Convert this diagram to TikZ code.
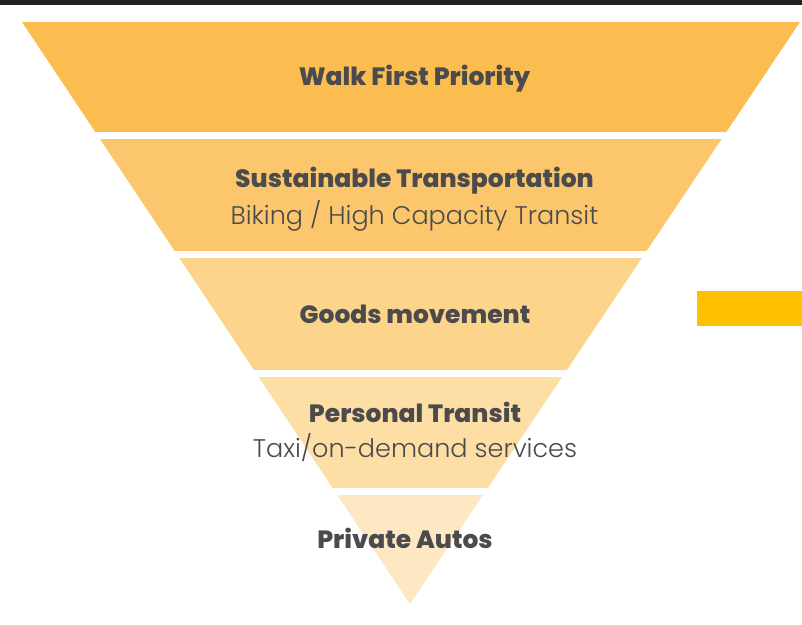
\documentclass[tikz,border=0pt]{standalone}
\usepackage{fontspec}
\setmainfont{Poppins}
\newfontfamily\titlefont{Poppins ExtraBold}
\newfontfamily\lightfont{Poppins Light}
\definecolor{barc}{HTML}{222222}
\definecolor{c1}{HTML}{FBBC50}
\definecolor{c2}{HTML}{FCC76C}
\definecolor{c3}{HTML}{FDD48B}
\definecolor{c4}{HTML}{FDDFA5}
\definecolor{c5}{HTML}{FEE8C4}
\definecolor{acc}{HTML}{FFC000}
\definecolor{txt}{HTML}{4B4B4D}
\tikzset{
  ttl/.style={anchor=base, text=txt, font=\titlefont\fontsize{25}{27}\selectfont, inner sep=0pt},
  sub/.style={anchor=base, text=txt, font=\lightfont\fontsize{25.5}{28}\selectfont, inner sep=0pt},
}
\begin{document}
\begin{tikzpicture}[x=1pt,y=-1pt]
\useasboundingbox (0,0) rectangle (802,624);
\fill[white] (0,0) rectangle (802,624);
\fill[barc] (0,0) rectangle (802,5);
\coordinate (tl) at (22,22);
\coordinate (tr) at (800,22);
\coordinate (ap) at (410,604);
\begin{scope}
  \clip (tl) -- (tr) -- (ap) -- cycle;
  \fill[c1] (0,22) rectangle (802,132);
  \fill[c2] (0,139) rectangle (802,251);
  \fill[c3] (0,258) rectangle (802,369.5);
  \fill[c4] (0,376.5) rectangle (802,488);
  \fill[c5] (0,495) rectangle (802,605);
\end{scope}
\fill[acc] (697,291) rectangle (802,326);
\node[ttl] (t1) at (414.5,85) {Walk First Priority};
\node[ttl] (t2) at (414.5,187) {Sustainable Transportation};
\node[sub] (s2) at (414.5,224) {Biking / High Capacity Transit};
\node[ttl] (t3) at (415,323) {Goods movement};
\node[ttl] (t4) at (415,422) {Personal Transit};
\node[sub] (s4) at (415,457) {Taxi/on-demand services};
\node[ttl] (t5) at (405,548) {Private Autos};
\end{tikzpicture}
\end{document}
